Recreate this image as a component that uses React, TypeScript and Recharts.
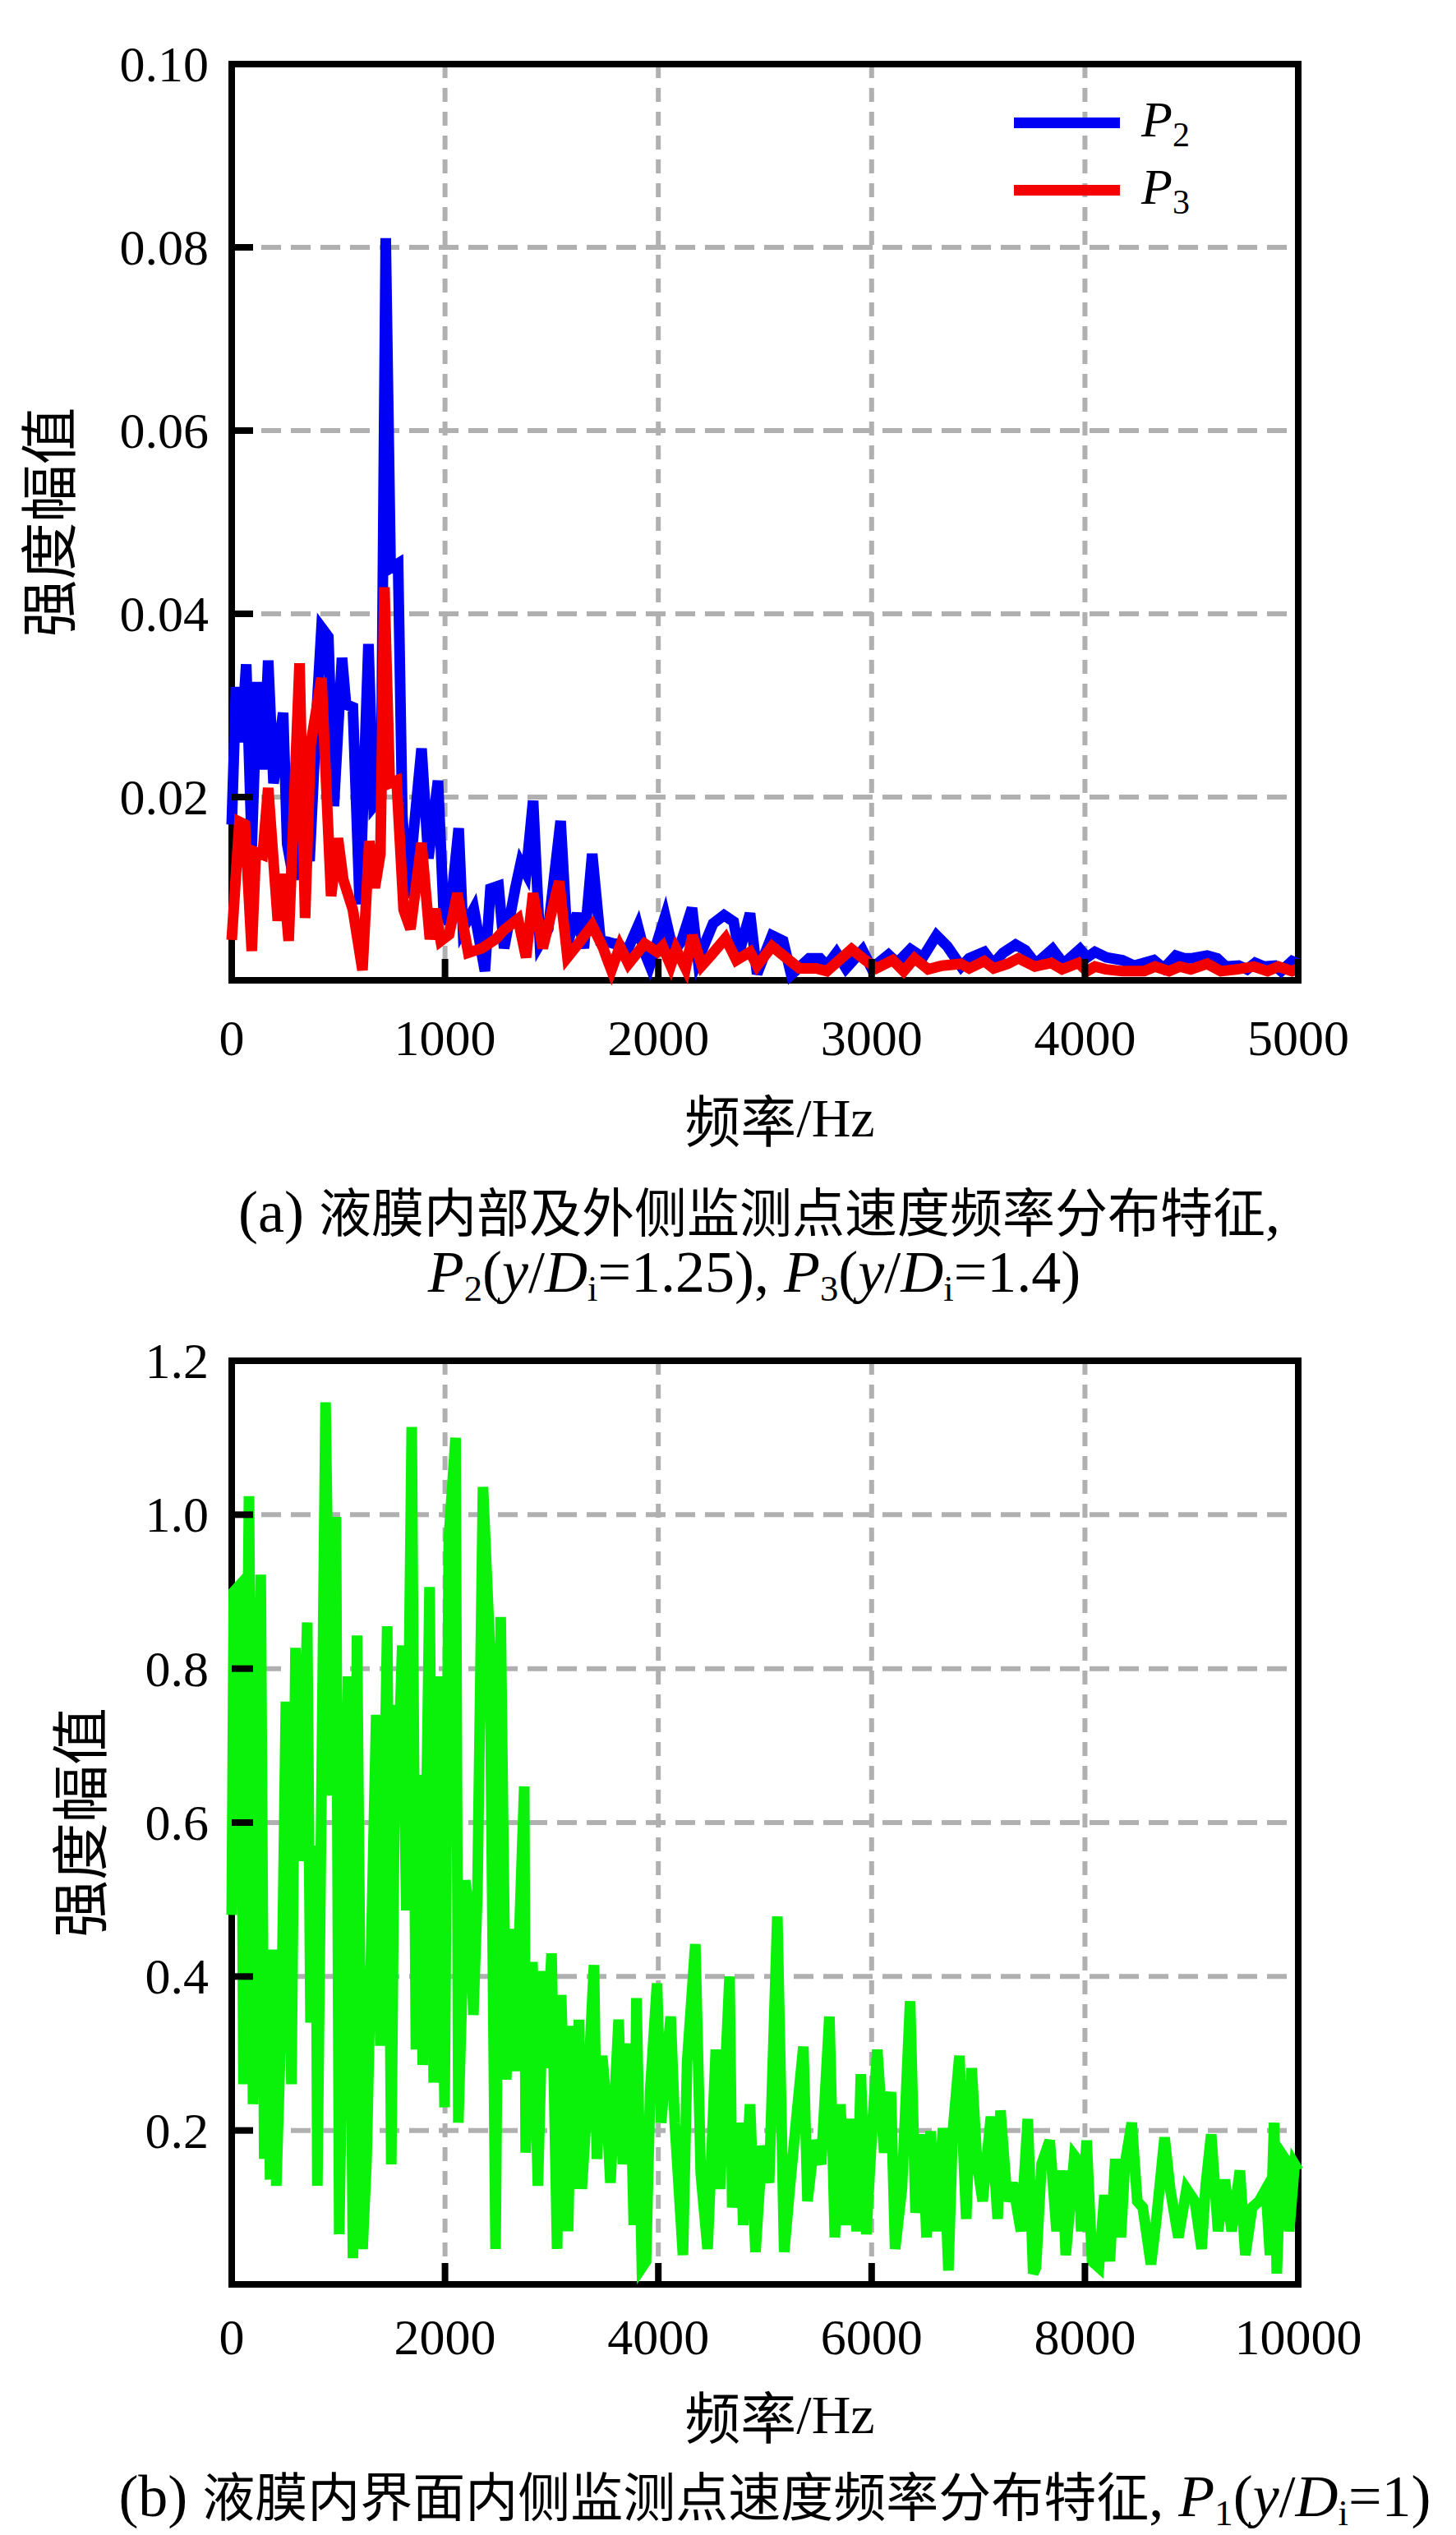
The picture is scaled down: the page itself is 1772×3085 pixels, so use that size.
import React from "react";
import {
  CartesianGrid,
  Label,
  Legend,
  Line,
  LineChart,
  ReferenceArea,
  XAxis,
  YAxis,
} from "recharts";

const SERIF = "'Liberation Serif', 'Times New Roman', serif";
const CJK = "'Noto Sans CJK SC', 'Noto Sans CJK TC', sans-serif";

// [frequency Hz, amplitude]
const P2_SPECTRUM: [number, number][] = [
  [0, 0.017], [20, 0.032], [45, 0.026], [68, 0.0345], [94, 0.0146], [119, 0.032], [138, 0.032],
  [150, 0.023], [171, 0.0349], [196, 0.0215], [241, 0.0292], [260, 0.0149], [290, 0.011],
  [330, 0.018], [365, 0.013], [400, 0.03], [421, 0.0385], [453, 0.0375], [479, 0.019],
  [517, 0.0352], [536, 0.0301], [568, 0.0298], [600, 0.0083], [641, 0.0367], [665, 0.019],
  [700, 0.02], [722, 0.081], [745, 0.045], [780, 0.0455], [800, 0.018], [825, 0.009],
  [850, 0.0155], [890, 0.0253], [922, 0.0133], [967, 0.0218], [993, 0.0078], [1019, 0.0062],
  [1064, 0.0166], [1084, 0.0056], [1135, 0.0078], [1187, 0.001], [1213, 0.01], [1251, 0.0103],
  [1277, 0.0035], [1329, 0.01], [1355, 0.0128], [1380, 0.0117], [1413, 0.0196], [1445, 0.004],
  [1484, 0.0056], [1542, 0.0174], [1574, 0.004], [1619, 0.0073], [1651, 0.0035], [1690, 0.0138],
  [1729, 0.0043], [1762, 0.0042], [1793, 0.004], [1814, 0.004], [1850, 0.003], [1904, 0.0059],
  [1936, 0.003], [1960, 0.0016], [2032, 0.007], [2071, 0.003], [2109, 0.0043], [2158, 0.0079],
  [2186, 0.0022], [2257, 0.0062], [2308, 0.0071], [2353, 0.0064], [2379, 0.003], [2430, 0.0073],
  [2463, 0.0007], [2533, 0.0049], [2585, 0.0043], [2623, 0.0006], [2707, 0.0024], [2758, 0.0024],
  [2790, 0.0016], [2835, 0.003], [2880, 0.0013], [2957, 0.0033], [3000, 0.0013], [3079, 0.0028],
  [3120, 0.0019], [3182, 0.0034], [3240, 0.0025], [3304, 0.0049], [3355, 0.0037], [3420, 0.0015],
  [3457, 0.0024], [3528, 0.0031], [3570, 0.0018], [3617, 0.003], [3675, 0.0039], [3720, 0.0033],
  [3770, 0.0018], [3848, 0.0034], [3900, 0.0018], [3977, 0.0034], [4010, 0.0025], [4047, 0.0031],
  [4100, 0.0025], [4175, 0.0022], [4230, 0.0016], [4323, 0.0022], [4370, 0.0013], [4426, 0.0027],
  [4465, 0.0024], [4503, 0.0024], [4573, 0.0027], [4620, 0.0024], [4660, 0.0015], [4721, 0.0016],
  [4760, 0.0012], [4798, 0.0019], [4840, 0.0015], [4890, 0.0016], [4920, 0.001], [4971, 0.0021],
  [5000, 0.0018],
];

const P3_SPECTRUM: [number, number][] = [
  [0, 0.0044], [36, 0.0173], [62, 0.017], [94, 0.0032], [113, 0.014], [145, 0.0137], [171, 0.021],
  [216, 0.0065], [241, 0.0116], [267, 0.0043], [318, 0.0346], [344, 0.0068], [370, 0.0257],
  [421, 0.033], [466, 0.0092], [498, 0.0155], [523, 0.011], [568, 0.0077], [613, 0.0011],
  [645, 0.0152], [671, 0.0101], [697, 0.0138], [716, 0.0429], [741, 0.0215], [773, 0.0218],
  [806, 0.0077], [838, 0.0056], [890, 0.015], [929, 0.0045], [954, 0.0078], [980, 0.0043],
  [1019, 0.005], [1058, 0.0095], [1109, 0.003], [1174, 0.0035], [1238, 0.0045], [1277, 0.0055],
  [1342, 0.0067], [1380, 0.0025], [1413, 0.0095], [1458, 0.0035], [1535, 0.0108], [1574, 0.0025],
  [1625, 0.004], [1690, 0.006], [1742, 0.0035], [1762, 0.0022], [1780, 0.0011], [1820, 0.0037],
  [1860, 0.0018], [1936, 0.004], [1994, 0.0031], [2020, 0.0037], [2058, 0.0016], [2083, 0.0034],
  [2128, 0.0013], [2160, 0.0049], [2204, 0.0016], [2250, 0.0028], [2315, 0.0046], [2366, 0.0022],
  [2430, 0.0031], [2463, 0.0016], [2533, 0.0037], [2597, 0.0025], [2662, 0.0013], [2740, 0.0013],
  [2790, 0.001], [2906, 0.0034], [2970, 0.0022], [3022, 0.0013], [3099, 0.0022], [3150, 0.001],
  [3201, 0.0024], [3265, 0.0012], [3330, 0.0016], [3418, 0.0018], [3457, 0.0013], [3528, 0.0021],
  [3572, 0.0013], [3637, 0.0018], [3688, 0.0024], [3765, 0.0015], [3842, 0.0019], [3893, 0.0012],
  [3970, 0.0019], [4009, 0.001], [4047, 0.0015], [4098, 0.0012], [4175, 0.001], [4278, 0.001],
  [4329, 0.0015], [4394, 0.001], [4445, 0.0015], [4496, 0.0012], [4573, 0.0018], [4637, 0.001],
  [4714, 0.0012], [4791, 0.0015], [4856, 0.001], [4907, 0.0015], [4971, 0.001], [5000, 0.0013],
];

const P1_SPECTRUM: [number, number][] = [
  [0, 0.48], [20, 0.9], [85, 0.91], [110, 0.26], [162, 1.024], [200, 0.234], [272, 0.922],
  [305, 0.163], [341, 0.43], [360, 0.136], [380, 0.435], [418, 0.128], [470, 0.372], [508, 0.757],
  [560, 0.26], [598, 0.827], [649, 0.55], [708, 0.86], [739, 0.34], [790, 0.57], [803, 0.128],
  [880, 1.146], [931, 0.635], [978, 0.997], [1008, 0.065], [1047, 0.4], [1090, 0.79], [1137, 0.034],
  [1175, 0.843], [1227, 0.046], [1265, 0.163], [1355, 0.74], [1393, 0.31], [1458, 0.855],
  [1496, 0.156], [1534, 0.753], [1560, 0.66], [1599, 0.83], [1637, 0.486], [1688, 1.114],
  [1727, 0.305], [1765, 0.662], [1791, 0.285], [1855, 0.906], [1894, 0.262], [1945, 0.79],
  [1996, 0.23], [2035, 0.969], [2099, 1.1], [2125, 0.21], [2189, 0.525], [2240, 0.47], [2266, 0.35],
  [2304, 0.51], [2356, 1.036], [2420, 0.83], [2474, 0.046], [2522, 0.867], [2574, 0.266],
  [2628, 0.462], [2653, 0.277], [2743, 0.647], [2756, 0.171], [2820, 0.419], [2871, 0.128],
  [2923, 0.407], [2948, 0.281], [2999, 0.43], [3051, 0.046], [3089, 0.376], [3154, 0.069],
  [3192, 0.336], [3218, 0.124], [3256, 0.344], [3282, 0.124], [3333, 0.234], [3397, 0.415],
  [3423, 0.163], [3474, 0.297], [3513, 0.234], [3551, 0.132], [3628, 0.344], [3667, 0.156],
  [3731, 0.313], [3770, 0.077], [3795, 0.372], [3846, 0.022], [3885, 0.03], [3923, 0.25],
  [3988, 0.391], [4026, 0.21], [4116, 0.348], [4154, 0.21], [4231, 0.038], [4270, 0.289],
  [4347, 0.442], [4398, 0.144], [4462, 0.046], [4539, 0.305], [4578, 0.124], [4668, 0.4],
  [4693, 0.1], [4770, 0.21], [4796, 0.077], [4860, 0.234], [4911, 0.042], [4975, 0.18],
  [5039, 0.132], [5116, 0.478], [5180, 0.042], [5232, 0.124], [5296, 0.218], [5360, 0.309],
  [5399, 0.108], [5463, 0.187], [5527, 0.156], [5604, 0.348], [5655, 0.061], [5707, 0.234],
  [5758, 0.077], [5809, 0.215], [5860, 0.069], [5899, 0.273], [5950, 0.065], [6002, 0.195],
  [6053, 0.305], [6117, 0.171], [6181, 0.25], [6220, 0.046], [6284, 0.124], [6361, 0.368],
  [6412, 0.093], [6476, 0.195], [6515, 0.061], [6553, 0.199], [6605, 0.069], [6669, 0.203],
  [6720, 0.018], [6759, 0.195], [6823, 0.297], [6887, 0.085], [6938, 0.281], [6990, 0.156],
  [7041, 0.108], [7118, 0.218], [7182, 0.085], [7208, 0.226], [7272, 0.108], [7323, 0.132],
  [7400, 0.069], [7464, 0.215], [7515, 0.014], [7541, 0.022], [7593, 0.156], [7670, 0.187],
  [7734, 0.069], [7790, 0.148], [7820, 0.038], [7901, 0.167], [7939, 0.16], [7965, 0.069],
  [8016, 0.187], [8067, 0.03], [8131, 0.022], [8183, 0.116], [8234, 0.03], [8285, 0.163],
  [8337, 0.061], [8375, 0.156], [8439, 0.21], [8491, 0.108], [8542, 0.1], [8619, 0.026],
  [8670, 0.085], [8747, 0.191], [8799, 0.124], [8876, 0.061], [8953, 0.124], [9030, 0.108],
  [9094, 0.046], [9132, 0.128], [9184, 0.195], [9248, 0.069], [9312, 0.136], [9376, 0.069],
  [9453, 0.148], [9504, 0.038], [9568, 0.1], [9632, 0.108], [9697, 0.124], [9735, 0.038],
  [9774, 0.21], [9799, 0.014], [9838, 0.171], [9876, 0.163], [9915, 0.069], [9966, 0.156],
  [10000, 0.148],
];

const TOP_X_TICKS = [0, 1000, 2000, 3000, 4000, 5000];
const TOP_Y_TICKS = [0.02, 0.04, 0.06, 0.08, 0.1];
const BOTTOM_X_TICKS = [0, 2000, 4000, 6000, 8000, 10000];
const BOTTOM_Y_TICKS = [0.2, 0.4, 0.6, 0.8, 1.0, 1.2];

const toRows = (pairs: [number, number][]) => pairs.map(([hz, amp]) => ({ hz, amp }));

const TICK_LEN = 26;
const TICK_GAP = 28;
const GRID = "#b0b0b0";
const LINE_W = 13;
const FRAME_W = 8;

function YTick(props: any) {
  const { x, y, payload, digits } = props;
  return (
    <g>
      <line x1={x + TICK_GAP} x2={x + TICK_GAP + TICK_LEN} y1={y} y2={y} style={{ stroke: "#000", strokeWidth: FRAME_W }} />
      <text x={x} y={y} textAnchor="end" dominantBaseline="central" fontFamily={SERIF} fontSize={62} fill="#000">
        {Number(payload.value).toFixed(digits)}
      </text>
    </g>
  );
}

function XTick(props: any) {
  const { x, y, payload, offset } = props;
  return (
    <g>
      <line x1={x} x2={x} y1={y} y2={y - TICK_LEN} style={{ stroke: "#000", strokeWidth: FRAME_W }} />
      <text x={x} y={y + offset} textAnchor="middle" dominantBaseline="central" fontFamily={SERIF} fontSize={62} fill="#000">
        {payload.value}
      </text>
    </g>
  );
}

function XTitle(props: any) {
  const { viewBox, dy } = props;
  const cx = viewBox.x + viewBox.width / 2 + 18;
  return (
    <text x={cx} y={viewBox.y + dy} textAnchor="middle" dominantBaseline="central" fill="#000">
      <tspan fontFamily={CJK} fontSize={68}>频率</tspan>
      <tspan fontFamily={SERIF} fontSize={66}>/Hz</tspan>
    </text>
  );
}

function YTitle(props: any) {
  const { viewBox, cx } = props;
  const cy = viewBox.y + viewBox.height / 2;
  return (
    <text
      x={cx}
      y={cy}
      transform={`rotate(-90 ${cx} ${cy})`}
      textAnchor="middle"
      dominantBaseline="central"
      fontFamily={CJK}
      fontSize={70}
      fill="#000"
    >
      强度幅值
    </text>
  );
}

function SeriesLegend(props: any) {
  const items = props.payload ?? [];
  return (
    <div style={{ display: "flex", flexDirection: "column" }}>
      {items.map((item: any) => {
        const name = String(item.value);
        return (
          <div key={name} style={{ display: "flex", alignItems: "center", height: 82 }}>
            <span style={{ display: "inline-block", width: 129, height: 13, background: item.color }} />
            <span style={{ marginLeft: 26, fontFamily: SERIF, fontSize: 62, fontStyle: "italic", lineHeight: 1, color: "#000" }}>
              {name.charAt(0)}
              <span style={{ fontStyle: "normal", fontSize: 42, verticalAlign: -12 }}>{name.slice(1)}</span>
            </span>
          </div>
        );
      })}
    </div>
  );
}

const Sub = ({ children }: { children: React.ReactNode }) => (
  <span style={{ fontSize: "0.62em", fontStyle: "normal", verticalAlign: "-0.24em" }}>{children}</span>
);
const Zh = ({ children }: { children: React.ReactNode }) => (
  <span style={{ fontFamily: CJK, fontSize: 64 }}>{children}</span>
);

const captionStyle: React.CSSProperties = {
  position: "absolute",
  left: 0,
  height: 64,
  lineHeight: "64px",
  textAlign: "center",
  whiteSpace: "nowrap",
  fontFamily: SERIF,
  fontSize: 72,
  color: "#000",
};

export default function App() {
  const p2 = toRows(P2_SPECTRUM);
  const p3 = toRows(P3_SPECTRUM);
  const p1 = toRows(P1_SPECTRUM);

  return (
    <div style={{ position: "absolute", left: 0, top: 0, width: 1772, height: 3085, background: "#fff", overflow: "hidden" }}>
      <div style={{ position: "absolute", left: 0, top: 0 }}>
        <LineChart width={1772} height={1420} margin={{ top: 78, right: 192, bottom: 27, left: 82 }}>
          <CartesianGrid vertical={false} stroke={GRID} strokeWidth={6} strokeDasharray="24 12" />
          <CartesianGrid horizontal={false} stroke={GRID} strokeWidth={6} strokeDasharray="17 12" />
          <XAxis
            dataKey="hz"
            type="number"
            domain={[0, 5000]}
            ticks={TOP_X_TICKS}
            interval={0}
            height={200}
            axisLine={false}
            tickSize={0}
            tickMargin={0}
            tick={(p: any) => <XTick {...p} offset={70} />}
            label={<Label content={(p: any) => <XTitle {...p} dy={167} />} />}
          />
          <YAxis
            type="number"
            domain={[0, 0.1]}
            ticks={TOP_Y_TICKS}
            interval={0}
            width={200}
            axisLine={false}
            tickSize={0}
            tickMargin={TICK_GAP}
            tick={(p: any) => <YTick {...p} digits={2} />}
            label={<Label content={(p: any) => <YTitle {...p} cx={55} />} />}
          />
          <Line data={p2} dataKey="amp" name="P2" stroke="#0000f5" strokeWidth={LINE_W} dot={false} activeDot={false} isAnimationActive={false} />
          <Line data={p3} dataKey="amp" name="P3" stroke="#f50000" strokeWidth={LINE_W} dot={false} activeDot={false} isAnimationActive={false} />
          <ReferenceArea x1={0} x2={5000} y1={0} y2={0.1} fill="none" stroke="#000" strokeWidth={FRAME_W} ifOverflow="visible" />
          <Legend
            verticalAlign="middle"
            align="center"
            content={(p: any) => <SeriesLegend {...p} />}
            wrapperStyle={{ left: 1234, top: 108, width: "auto" }}
          />
        </LineChart>
      </div>

      <div style={{ ...captionStyle, top: 1439, width: 1848 }}>
        (a) <Zh>液膜内部及外侧监测点速度频率分布特征</Zh>,
      </div>
      <div style={{ ...captionStyle, top: 1516, width: 1836 }}>
        <i>P</i><Sub>2</Sub>(<i>y</i>/<i>D</i><Sub>i</Sub>=1.25), <i>P</i><Sub>3</Sub>(<i>y</i>/<i>D</i><Sub>i</Sub>=1.4)
      </div>

      <div style={{ position: "absolute", left: 0, top: 1560 }}>
        <LineChart width={1772} height={1440} margin={{ top: 96, right: 192, bottom: 20, left: 82 }}>
          <CartesianGrid vertical={false} stroke={GRID} strokeWidth={6} strokeDasharray="24 12" />
          <CartesianGrid horizontal={false} stroke={GRID} strokeWidth={6} strokeDasharray="17 12" />
          <XAxis
            dataKey="hz"
            type="number"
            domain={[0, 10000]}
            ticks={BOTTOM_X_TICKS}
            interval={0}
            height={200}
            axisLine={false}
            tickSize={0}
            tickMargin={0}
            tick={(p: any) => <XTick {...p} offset={64} />}
            label={<Label content={(p: any) => <XTitle {...p} dy={158} />} />}
          />
          <YAxis
            type="number"
            domain={[0, 1.2]}
            ticks={BOTTOM_Y_TICKS}
            interval={0}
            width={200}
            axisLine={false}
            tickSize={0}
            tickMargin={TICK_GAP}
            tick={(p: any) => <YTick {...p} digits={1} />}
            label={<Label content={(p: any) => <YTitle {...p} cx={93} />} />}
          />
          <Line data={p1} dataKey="amp" name="P1" stroke="#0af20a" strokeWidth={LINE_W} dot={false} activeDot={false} isAnimationActive={false} />
          <ReferenceArea x1={0} x2={10000} y1={0} y2={1.2} fill="none" stroke="#000" strokeWidth={FRAME_W} ifOverflow="visible" />
        </LineChart>
      </div>

      <div style={{ ...captionStyle, top: 3002, width: 1886 }}>
        (b) <Zh>液膜内界面内侧监测点速度频率分布特征</Zh>, <i>P</i><Sub>1</Sub>(<i>y</i>/<i>D</i><Sub>i</Sub>=1)
      </div>
    </div>
  );
}
